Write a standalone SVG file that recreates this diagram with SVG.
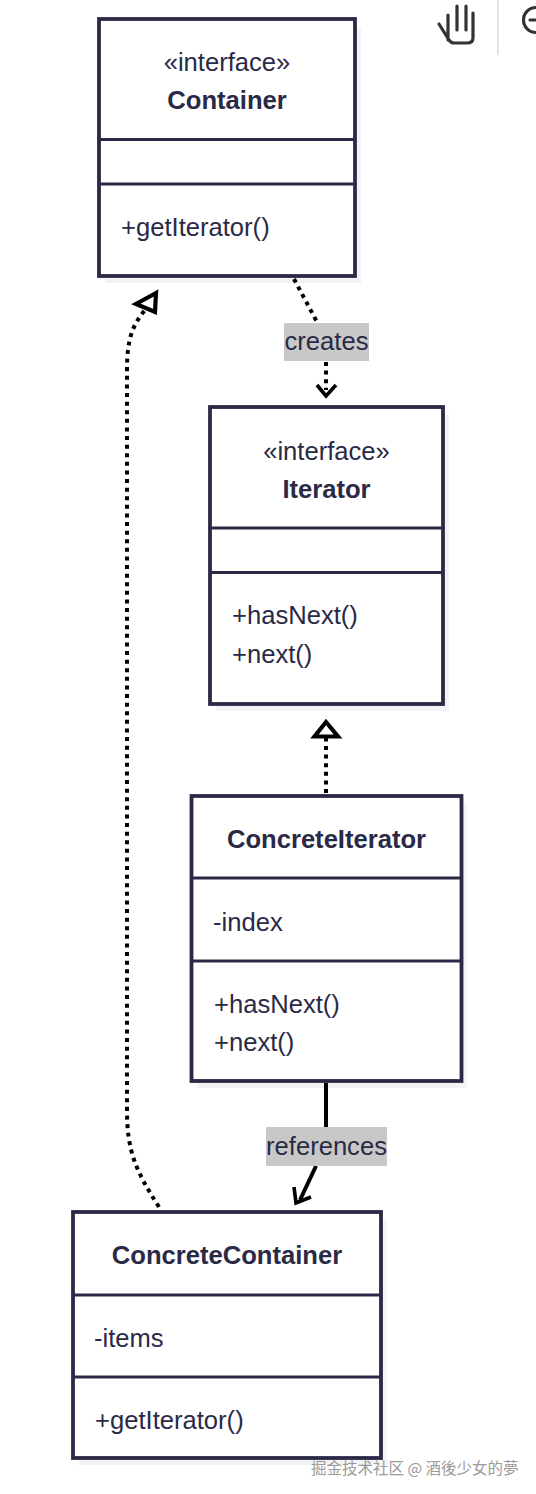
<svg xmlns="http://www.w3.org/2000/svg" width="536" height="1494" viewBox="0 0 536 1494">
<style>
.box{fill:#fff;stroke:#2a2a46;stroke-width:3.8}
.shadow{fill:#f3f3f5}
.div{stroke:#2a2a46;stroke-width:3.2;fill:none}
text{font-family:"Liberation Sans",Arial,sans-serif;font-size:25.6px;fill:#2a2a46}
.c{text-anchor:middle}
.b{font-weight:700}
.dot{fill:none;stroke:#000;stroke-width:4;stroke-dasharray:4 4.6}
.solid{fill:none;stroke:#000;stroke-width:4}
.arrow{fill:none;stroke:#000;stroke-width:3.6}
.tri{fill:#fff;stroke:#000;stroke-width:4.2}
.lbl{fill:#c8c8c8}
.wm{font-family:"Noto Sans CJK SC","Liberation Sans",sans-serif;font-size:15.5px;fill:#9a9a9a}
.ui{fill:none;stroke:#333;stroke-width:3.2;stroke-linecap:round;stroke-linejoin:round}
</style>
<rect width="536" height="1494" fill="#fff"/>
<g id="toolbar">
<path class="ui" d="M448 40V15M457 30V6M466 30V6M473 38V13M473 38Q473 43 467 43H454Q451 43 449 40L439 24"/>
<rect x="497" y="0" width="2" height="55" fill="#e4e4e6"/>
<path class="ui" d="M536 7.500A12.500 12.500 0 1 0 536 32.500M530 20H536"/>
</g>
<g id="Container">
<rect class="shadow" x="105" y="27" width="256" height="256"/>
<rect class="box" x="99" y="19" width="256" height="257"/>
<path class="div" d="M99 139.500H355M99 184H355"/>
<text class="c" x="227" y="71">«interface»</text>
<text class="c b" x="227" y="109">Container</text>
<text x="121" y="236">+getIterator()</text>
</g>
<g id="Iterator">
<rect class="shadow" x="216" y="415" width="233" height="296"/>
<rect class="box" x="210" y="407" width="233" height="297"/>
<path class="div" d="M210 528H443M210 572.500H443"/>
<text class="c" x="326.500" y="460">«interface»</text>
<text class="c b" x="326.500" y="498">Iterator</text>
<text x="232" y="624">+hasNext()</text>
<text x="232" y="663">+next()</text>
</g>
<g id="ConcreteIterator">
<rect class="shadow" x="197" y="804" width="270" height="284"/>
<rect class="box" x="191.500" y="796" width="270" height="285"/>
<path class="div" d="M191.500 878H461.500M191.500 961H461.500"/>
<text class="c b" x="326.500" y="848">ConcreteIterator</text>
<text x="213" y="931">-index</text>
<text x="214" y="1013">+hasNext()</text>
<text x="214" y="1051">+next()</text>
</g>
<g id="ConcreteContainer">
<rect class="shadow" x="79" y="1220" width="308" height="245"/>
<rect class="box" x="73" y="1212" width="308" height="246"/>
<path class="div" d="M73 1295H381M73 1377H381"/>
<text class="c b" x="227" y="1264">ConcreteContainer</text>
<text x="94" y="1347">-items</text>
<text x="95" y="1429">+getIterator()</text>
</g>
<g id="connectors">
<path class="dot" d="M294 279L317 322"/>
<path class="dot" d="M326 362V390"/>
<path class="arrow" d="M317 385L326 396L336 385"/>
<path class="dot" d="M326 793V737"/>
<path class="tri" d="M326 722L314.500 736.500H338Z"/>
<path class="dot" d="M159 1207C135 1170 127 1150 127 1110V370C127 340 132 325 146 309"/>
<path class="tri" d="M156 293L136 304L155 312Z"/>
<path class="solid" d="M326 1083V1128"/>
<path class="solid" d="M316 1166L300 1200"/>
<path class="arrow" d="M294 1187L296 1203L311 1197"/>
</g>
<g id="label-creates">
<rect class="lbl" x="284" y="323" width="85" height="38"/>
<text class="c" x="326.500" y="350">creates</text>
</g>
<g id="label-references">
<rect class="lbl" x="266" y="1127" width="121" height="39"/>
<text class="c" x="326.500" y="1155">references</text>
</g>
<g id="watermark">
<text class="wm" x="311" y="1474">掘金技术社区 @ 酒後少女的夢</text>
</g>
</svg>
